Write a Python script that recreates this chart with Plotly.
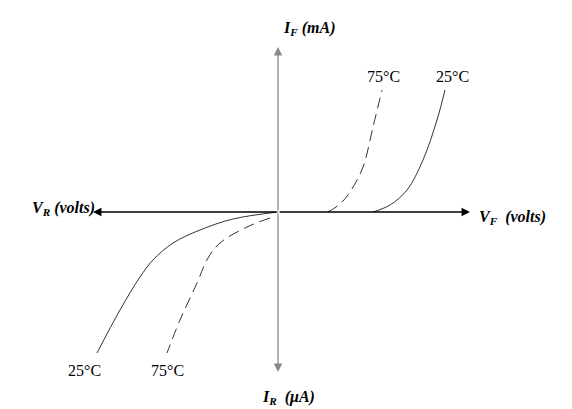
import plotly.graph_objects as go

# forward bias curves (arbitrary units, origin at the axes crossing)
vf_25 = [95, 112, 129, 145, 159, 167]
if_25 = [0, 7, 22, 52, 92, 122]
vf_75 = [50, 62, 72, 85, 95, 104]
if_75 = [0, 8, 20, 45, 85, 122]

# reverse bias curves
vr_25 = [0, -45, -78, -105, -125, -138, -158, -181]
ir_25 = [0, -7, -18, -31, -48, -65, -98, -141]
vr_75 = [-8, -31, -58, -70, -81, -98, -111]
ir_75 = [-6, -15, -31, -46, -71, -108, -141]

temp_labels = ['25°C', '75°C']

fig = go.Figure()
fig.add_trace(go.Scatter(x=vf_25, y=if_25, mode='lines', line=dict(color='#333333', width=1, shape='spline')))
fig.add_trace(go.Scatter(x=vf_75, y=if_75, mode='lines', line=dict(color='#333333', width=1, dash='11px,6px', shape='spline')))
fig.add_trace(go.Scatter(x=vr_25, y=ir_25, mode='lines', line=dict(color='#333333', width=1, shape='spline')))
fig.add_trace(go.Scatter(x=vr_75, y=ir_75, mode='lines', line=dict(color='#333333', width=1, dash='11px,6px', shape='spline')))

# axes drawn as arrows
arrows = [
    (192, 0, 'black'),
    (-185, 0, 'black'),
    (0, 165, '#888888'),
    (0, -160, '#888888'),
]
for tx, ty, col in arrows:
    fig.add_annotation(x=tx, y=ty, ax=0, ay=0, xref='x', yref='y', axref='x', ayref='y',
                       text='', showarrow=True, arrowhead=2, arrowsize=1.3, arrowwidth=1.3,
                       arrowcolor=col, font=dict(size=12))

serif = 'Liberation Serif'
lab = dict(family=serif, size=16, color='black')
fig.add_annotation(x=31, y=184, xref='x', yref='y', showarrow=False,
                   text='<b><i>I<sub>F</sub> (mA)</i></b>', font=lab)
fig.add_annotation(x=-215, y=4, xref='x', yref='y', showarrow=False,
                   text='<b><i>V<sub>R</sub> (volts)</i></b>', font=lab)
fig.add_annotation(x=234, y=-5, xref='x', yref='y', showarrow=False,
                   text='<b><i>V<sub>F</sub>  (volts)</i></b>', font=lab)
fig.add_annotation(x=10, y=-185, xref='x', yref='y', showarrow=False,
                   text='<b><i>I<sub>R</sub>  (μA)</i></b>', font=lab)

tfont = dict(family=serif, size=16, color='black')
fig.add_annotation(x=174, y=136, xref='x', yref='y', showarrow=False, text=temp_labels[0], font=tfont)
fig.add_annotation(x=105, y=136, xref='x', yref='y', showarrow=False, text=temp_labels[1], font=tfont)
fig.add_annotation(x=-194, y=-158, xref='x', yref='y', showarrow=False, text=temp_labels[0], font=tfont)
fig.add_annotation(x=-111, y=-158, xref='x', yref='y', showarrow=False, text=temp_labels[1], font=tfont)

# ranges shifted by 8px to offset the page margin
fig.update_layout(width=572, height=409, margin=dict(l=0, r=0, t=0, b=0),
                  plot_bgcolor='white', paper_bgcolor='white', showlegend=False,
                  xaxis=dict(range=[-270, 302], visible=False, fixedrange=True),
                  yaxis=dict(range=[-205, 204], visible=False, fixedrange=True))

fig.write_html('out.html')
